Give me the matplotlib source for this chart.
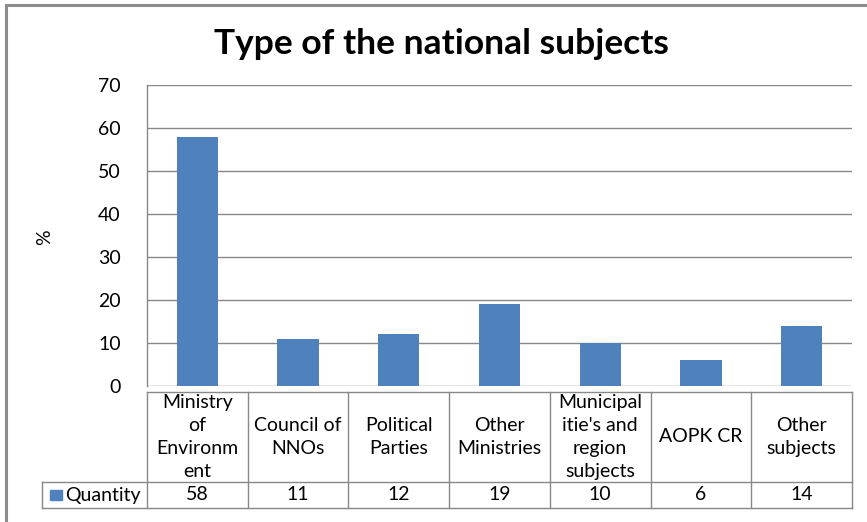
import matplotlib
matplotlib.use("Agg")
import matplotlib.pyplot as plt
from matplotlib.lines import Line2D
from matplotlib.patches import Rectangle

categories = ["Ministry\nof\nEnvironm\nent", "Council of\nNNOs", "Political\nParties",
              "Other\nMinistries", "Municipal\nitie's and\nregion\nsubjects", "AOPK CR",
              "Other\nsubjects"]
quantity = [58, 11, 12, 19, 10, 6, 14]
series_name = "Quantity"
yticks = [0, 10, 20, 30, 40, 50, 60, 70]
title = "Type of the national subjects"

W, H = 867, 522
plt.rcParams['font.family'] = ['Lato', 'DejaVu Sans']
fig = plt.figure(figsize=(W / 100, H / 100), dpi=100)

BAR = "#4F81BD"
GRID = "#888888"
TXT = "#000000"
FS = 14

# frame of chart area (left and top lines)
fig.add_artist(Line2D([6 / W, 6 / W], [0, 1 - 5 / H], color="#8c8c8c", lw=2.2, transform=fig.transFigure))
fig.add_artist(Line2D([6 / W, 1], [1 - 5 / H, 1 - 5 / H], color="#8c8c8c", lw=2.2, transform=fig.transFigure))

L, R = 147 / W, 852 / W
ax = fig.add_axes([L, 1 - 386 / H, R - L, (386 - 85) / H])
x = list(range(len(categories)))
ax.bar(x, quantity, width=0.41, color=BAR, zorder=3)
ax.set_xlim(-0.5, len(categories) - 0.5)
ax.set_ylim(0, 70)
ax.set_yticks(yticks)
ax.set_yticklabels([str(t) for t in yticks], fontsize=FS, color=TXT)
ax.tick_params(axis='y', length=0, pad=19)
ax.set_xticks([])
ax.grid(axis='y', color=GRID, lw=1.0, zorder=0)
for s in ['top', 'right', 'bottom']:
    ax.spines[s].set_visible(False)
ax.spines['left'].set_color(GRID)
ax.spines['left'].set_linewidth(1.0)

fig.text(441 / W, 1 - 44 / H, title, ha='center', va='center', fontsize=25.5, fontweight='bold')
fig.text(45 / W, 1 - 237 / H, "%", rotation=90, ha='center', va='center', fontsize=FS)

# data table
tb = fig.add_axes([L, 1 - 514 / H, R - L, (514 - 386) / H], sharex=ax)
tb.axis('off')
n = len(categories)
split = (514 - 485) / (514 - 386)
left_ext = -0.5 - (147 - 42) / ((852 - 147) / n)
kw = dict(color=GRID, lw=1.0, clip_on=False)
tb.plot([-0.5, n - 0.5], [1, 1], **kw)
tb.plot([left_ext, n - 0.5], [split, split], **kw)
tb.plot([left_ext, n - 0.5], [0, 0], **kw)
tb.plot([left_ext, left_ext], [0, split], **kw)
for i in range(n + 1):
    tb.plot([i - 0.5, i - 0.5], [0, 1], **kw)
for i, (c, v) in enumerate(zip(categories, quantity)):
    tb.text(i, (1 + split) / 2, c, ha='center', va='center', fontsize=FS, linespacing=1.42, color=TXT)
    tb.text(i, split / 2, str(v), ha='center', va='center', fontsize=FS, color=TXT)
cell_w = (852 - 147) / n
tb.add_patch(Rectangle((left_ext + 8 / cell_w, split / 2 - 5.5 / 128), 12 / cell_w, 11 / 128,
                       color=BAR, clip_on=False))
tb.text(left_ext + 23 / cell_w, split / 2, series_name, ha='left', va='center', fontsize=FS, color=TXT)

fig.savefig("out.png", dpi=100)
